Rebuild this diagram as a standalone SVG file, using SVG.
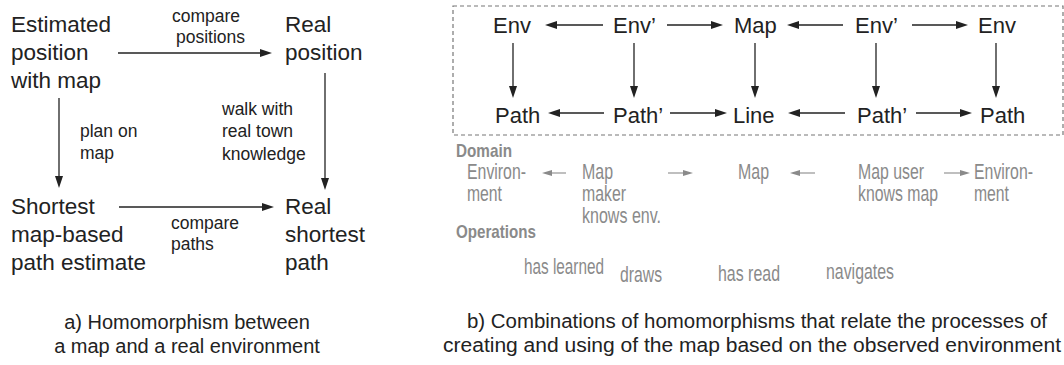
<svg xmlns="http://www.w3.org/2000/svg" width="1064" height="365" viewBox="0 0 1064 365">
  <style>
    .t { font-family: "Liberation Sans", Arial, sans-serif; fill: #222; }
    .big { font-size: 22.5px; }
    .lbl { font-size: 17.5px; }
    .node { font-size: 22px; }
    .cap { font-size: 20px; }
    .g { font-family: "Liberation Sans", Arial, sans-serif; fill: #8a8a8a; font-size: 22px; }
    .gb { font-family: "Liberation Sans", Arial, sans-serif; fill: #8a8a8a; font-size: 19px; font-weight: bold; }
    .e { stroke: #222; stroke-width: 1.3; fill: none; marker-end: url(#ah); }
    .ge { stroke: #8a8a8a; stroke-width: 1.1; fill: none; marker-end: url(#gah); }
  </style>
  <defs>
    <marker id="ah" viewBox="0 0 12 8" refX="6" refY="4" markerWidth="12" markerHeight="8" markerUnits="userSpaceOnUse" orient="auto">
      <path d="M0,0 L12,4 L0,8 Z" fill="#222"/>
    </marker>
    <marker id="gah" viewBox="0 0 10 6" refX="5" refY="3" markerWidth="10" markerHeight="6" markerUnits="userSpaceOnUse" orient="auto">
      <path d="M0,0 L10,3 L0,6 Z" fill="#8a8a8a"/>
    </marker>
  </defs>

  <rect width="1064" height="365" fill="#fff"/>

  <!-- (a) map vs. real environment -->
  <g id="a-estimated">
    <text class="t big" x="11" y="32">Estimated</text>
    <text class="t big" x="11" y="60">position</text>
    <text class="t big" x="11" y="88">with map</text>
  </g>
  <g id="a-real">
    <text class="t big" x="285" y="32">Real</text>
    <text class="t big" x="285" y="60">position</text>
  </g>
  <g id="a-shortest">
    <text class="t big" x="11" y="214">Shortest</text>
    <text class="t big" x="11" y="242">map-based</text>
    <text class="t big" x="11" y="270">path estimate</text>
  </g>
  <g id="a-realshortest">
    <text class="t big" x="285" y="214">Real</text>
    <text class="t big" x="285" y="242">shortest</text>
    <text class="t big" x="285" y="270">path</text>
  </g>
  <g id="a-connectors">
    <line class="e" x1="118" y1="53" x2="266" y2="53"/>
    <line class="e" x1="119" y1="207" x2="268" y2="207"/>
    <line class="e" x1="59" y1="98" x2="59" y2="182"/>
    <line class="e" x1="325" y1="73" x2="325" y2="184"/>
    <text class="t lbl" x="172" y="22">compare</text>
    <text class="t lbl" x="176" y="43">positions</text>
    <text class="t lbl" x="171" y="229">compare</text>
    <text class="t lbl" x="171" y="250">paths</text>
    <text class="t lbl" x="80" y="137">plan on</text>
    <text class="t lbl" x="80" y="159">map</text>
    <text class="t lbl" x="222" y="115">walk with</text>
    <text class="t lbl" x="222" y="137">real town</text>
    <text class="t lbl" x="222" y="160">knowledge</text>
  </g>
  <g id="a-caption">
    <text class="t cap" x="187" y="329" text-anchor="middle">a) Homomorphism between</text>
    <text class="t cap" x="187" y="353" text-anchor="middle">a map and a real environment</text>
  </g>

  <!-- (b) combined homomorphisms -->
  <rect id="b-frame" x="453" y="6" width="610" height="129" fill="none" stroke="#777" stroke-width="1.2" stroke-dasharray="4,3"/>
  <g id="b-env1"><text class="t node" x="493" y="33">Env</text></g>
  <g id="b-env2"><text class="t node" x="613" y="33">Env’</text></g>
  <g id="b-map"><text class="t node" x="734" y="33">Map</text></g>
  <g id="b-env3"><text class="t node" x="855" y="33">Env’</text></g>
  <g id="b-env4"><text class="t node" x="978" y="33">Env</text></g>
  <g id="b-path1"><text class="t node" x="495" y="123">Path</text></g>
  <g id="b-path2"><text class="t node" x="613" y="123">Path’</text></g>
  <g id="b-line"><text class="t node" x="733" y="123">Line</text></g>
  <g id="b-path3"><text class="t node" x="857" y="123">Path’</text></g>
  <g id="b-path4"><text class="t node" x="980" y="123">Path</text></g>
  <g id="b-connectors">
    <line class="e" x1="603" y1="25" x2="551" y2="25"/>
    <line class="e" x1="667" y1="25" x2="717" y2="25"/>
    <line class="e" x1="843" y1="25" x2="793" y2="25"/>
    <line class="e" x1="912" y1="25" x2="962" y2="25"/>
    <line class="e" x1="604" y1="113" x2="554" y2="113"/>
    <line class="e" x1="670" y1="113" x2="721" y2="113"/>
    <line class="e" x1="845" y1="113" x2="794" y2="113"/>
    <line class="e" x1="916" y1="113" x2="966" y2="113"/>
    <line class="e" x1="513" y1="43" x2="513" y2="92"/>
    <line class="e" x1="634" y1="43" x2="634" y2="92"/>
    <line class="e" x1="755" y1="43" x2="755" y2="92"/>
    <line class="e" x1="876" y1="43" x2="876" y2="92"/>
    <line class="e" x1="996" y1="43" x2="996" y2="92"/>
  </g>

  <!-- grey legend: narrow lettering, squeezed to fixed widths -->
  <g id="b-domain">
    <text class="gb" x="456" y="157" textLength="56" lengthAdjust="spacingAndGlyphs">Domain</text>
    <text class="g" x="467" y="179" textLength="59" lengthAdjust="spacingAndGlyphs">Environ-</text>
    <text class="g" x="467" y="201" textLength="35" lengthAdjust="spacingAndGlyphs">ment</text>
    <text class="g" x="582" y="179" textLength="31" lengthAdjust="spacingAndGlyphs">Map</text>
    <text class="g" x="582" y="201" textLength="44" lengthAdjust="spacingAndGlyphs">maker</text>
    <text class="g" x="582" y="223" textLength="79" lengthAdjust="spacingAndGlyphs">knows env.</text>
    <text class="g" x="738" y="179" textLength="31" lengthAdjust="spacingAndGlyphs">Map</text>
    <text class="g" x="858" y="179" textLength="66" lengthAdjust="spacingAndGlyphs">Map user</text>
    <text class="g" x="858" y="201" textLength="80" lengthAdjust="spacingAndGlyphs">knows map</text>
    <text class="g" x="974" y="179" textLength="59" lengthAdjust="spacingAndGlyphs">Environ-</text>
    <text class="g" x="974" y="201" textLength="35" lengthAdjust="spacingAndGlyphs">ment</text>
    <line class="ge" x1="566" y1="173" x2="547" y2="173"/>
    <line class="ge" x1="668" y1="173" x2="688" y2="173"/>
    <line class="ge" x1="815" y1="173" x2="795" y2="173"/>
    <line class="ge" x1="944" y1="173" x2="965" y2="173"/>
  </g>
  <g id="b-operations">
    <text class="gb" x="456" y="238" textLength="80" lengthAdjust="spacingAndGlyphs">Operations</text>
    <text class="g" x="524" y="274" textLength="80" lengthAdjust="spacingAndGlyphs">has learned</text>
    <text class="g" x="620" y="282" textLength="42" lengthAdjust="spacingAndGlyphs">draws</text>
    <text class="g" x="718" y="281" textLength="62" lengthAdjust="spacingAndGlyphs">has read</text>
    <text class="g" x="826" y="279" textLength="68" lengthAdjust="spacingAndGlyphs">navigates</text>
  </g>
  <g id="b-caption">
    <text class="t cap" x="467" y="328" textLength="580" lengthAdjust="spacingAndGlyphs">b) Combinations of homomorphisms that relate the processes of</text>
    <text class="t cap" x="443" y="352" textLength="618" lengthAdjust="spacingAndGlyphs">creating and using of the map based on the observed environment</text>
  </g>
</svg>
